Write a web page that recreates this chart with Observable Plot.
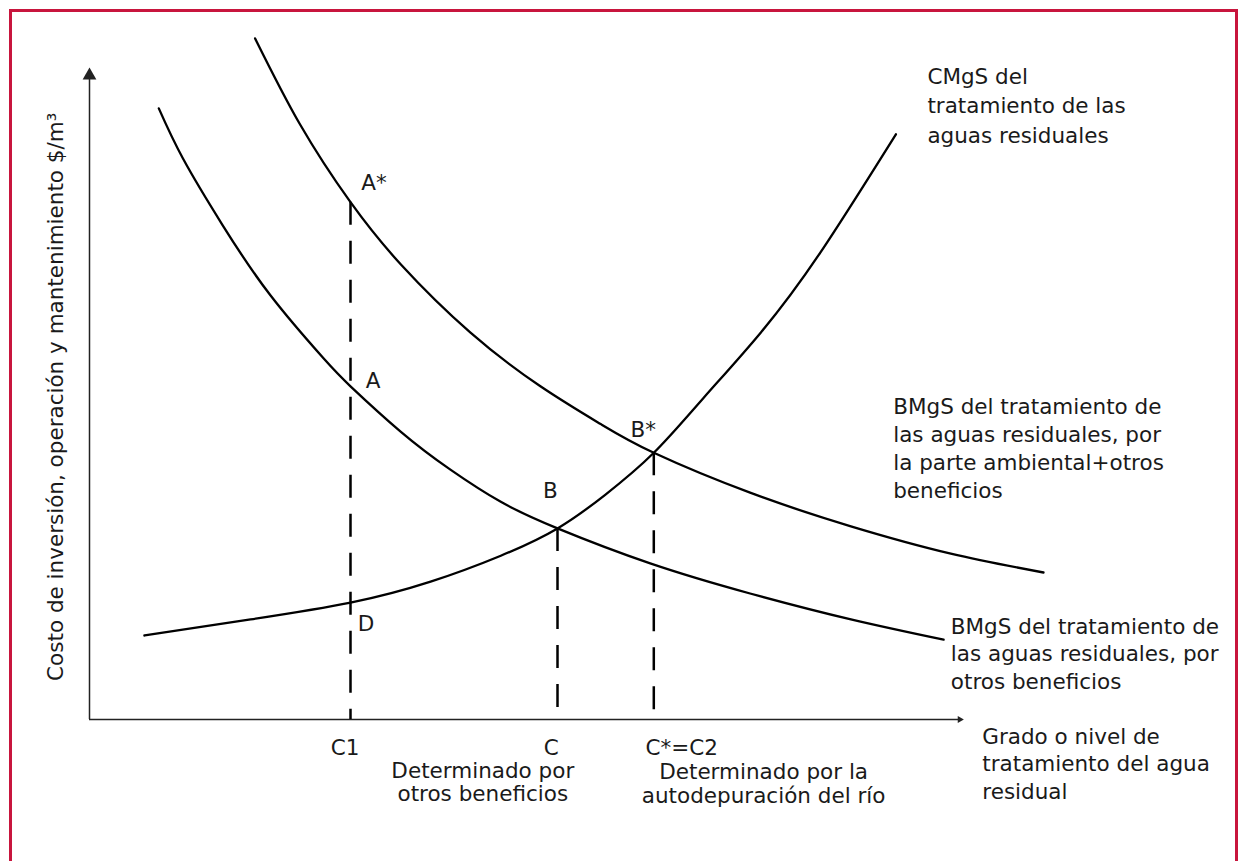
<!DOCTYPE html>
<html><head><meta charset="utf-8">
<script src="https://cdn.jsdelivr.net/npm/d3@7"></script>
<script src="https://cdn.jsdelivr.net/npm/@observablehq/plot@0.6"></script>
<style>
html,body{margin:0;padding:0;background:#fff;overflow:hidden;}
#wrap{position:relative;width:1238px;height:861px;overflow:hidden;}
#frame{position:absolute;left:9px;top:9px;width:1229px;height:900px;border:3px solid #c8153d;box-sizing:border-box;}
#wrap svg{display:block;position:absolute;left:0;top:0;}
</style></head><body><div id="wrap"><div id="frame"></div></div>
<script>
// Curve CMgS (marginal social cost of treatment)
const cmgsX = [6.1, 17.9, 29.0, 37.9, 45.7, 52.0, 57.3, 62.7, 68.2, 74.6, 81.2, 89.6];
const cmgsY = [12.0, 14.3, 16.7, 19.7, 23.4, 27.3, 32.1, 38.1, 45.9, 55.3, 66.7, 83.6];
// Curve BMgS (environmental + other benefits)
const bmgsAmbX = [18.4, 23.4, 29.0, 34.6, 42.3, 50.1, 56.8, 62.7, 73.4, 84.6, 95.7, 106.0];
const bmgsAmbY = [97.3, 85.0, 73.9, 65.0, 55.3, 47.6, 42.2, 38.1, 32.4, 27.6, 23.7, 21.0];
// Curve BMgS (other benefits only)
const bmgsOtrX = [7.7, 10.4, 14.8, 20.1, 26.0, 29.0, 34.6, 40.1, 45.7, 52.0, 62.3, 73.4, 84.6, 94.9];
const bmgsOtrY = [87.3, 80.1, 70.6, 60.6, 51.6, 47.6, 41.1, 35.7, 31.1, 27.3, 22.3, 18.0, 14.3, 11.4];
// Drop lines: C1, C, C*=C2
const dropNames = ["C1", "C", "C*=C2"];
const dropX = [29.0, 52.0, 62.7];
const dropTop = [73.9, 27.3, 38.1];
// Axis extents
const axisXEnd = 96.7;
const axisYEnd = 92.0;

const toPts = (xs, ys) => xs.map((x, i) => ({x, y: ys[i]}));
const cmgs = toPts(cmgsX, cmgsY);
const bmgsAmb = toPts(bmgsAmbX, bmgsAmbY);
const bmgsOtr = toPts(bmgsOtrX, bmgsOtrY);
const drops = dropX.map((x, i) => ({x, top: dropTop[i], base: 0, name: dropNames[i]}));

// Annotation table (text, anchor position in data units)
const pointLabels = [
  {text: "A*", x: 30.2, y: 75.6},
  {text: "A", x: 30.7, y: 47.3},
  {text: "B*", x: 60.1, y: 40.3},
  {text: "B", x: 50.4, y: 31.6},
  {text: "D", x: 29.8, y: 12.7}
];
const tickLabels = [
  {text: "C1", x: 28.4, y: -5.1},
  {text: "C", x: 51.3, y: -5.1},
  {text: "C*=C2", x: 65.8, y: -5.1}
];
const noteLabels = [
  {text: "Determinado por\notros beneficios", x: 43.7, y: -11.7},
  {text: "Determinado por la\nautodepuración del río", x: 74.9, y: -11.9}
];
const curveLabels = [
  {text: "CMgS del\ntratamiento de las\naguas residuales", x: 93.1, y: 82.4, lh: 1.36},
  {text: "BMgS del tratamiento de\nlas aguas residuales, por\nla parte ambiental+otros\nbeneficios", x: 89.3, y: 31.7, lh: 1.30},
  {text: "BMgS del tratamiento de\nlas aguas residuales, por\notros beneficios", x: 95.7, y: 4.3, lh: 1.30},
  {text: "Grado o nivel de\ntratamiento del agua\nresidual", x: 99.2, y: -11.3, lh: 1.28}
];
const yTitle = [{text: "Costo de inversión, operación y mantenimiento $/m³", x: -3.0, y: 46.1}];

const FS = 21.5;
const INK = "#1a1a1a";
const marks = [
  // axes
  Plot.ruleY([{y: 0, x1: 0, x2: axisXEnd}], {y: "y", x1: "x1", x2: "x2", stroke: "#222", strokeWidth: 1.5}),
  Plot.ruleX([{x: 0, y1: 0, y2: axisYEnd}], {x: "x", y1: "y1", y2: "y2", stroke: "#222", strokeWidth: 1.5}),
  Plot.dot([{x: 0, y: axisYEnd}], {x: "x", y: "y", symbol: "triangle", r: 5.1, fill: "#222", stroke: "none"}),
  Plot.dot([{x: axisXEnd, y: 0}], {x: "x", y: "y", symbol: "triangle", r: 2.6, rotate: 90, fill: "#222", stroke: "none"}),
  // dashed drop lines
  Plot.ruleX(drops, {x: "x", y1: "top", y2: "base", stroke: "#000", strokeWidth: 2.5, strokeDasharray: "23,16"}),
  // curves
  Plot.line(bmgsAmb, {x: "x", y: "y", curve: "natural", stroke: "#000", strokeWidth: 2.3}),
  Plot.line(bmgsOtr, {x: "x", y: "y", curve: "natural", stroke: "#000", strokeWidth: 2.3}),
  Plot.line(cmgs, {x: "x", y: "y", curve: "natural", stroke: "#000", strokeWidth: 2.3}),
  // labels
  Plot.text(pointLabels, {x: "x", y: "y", text: "text", textAnchor: "start", lineAnchor: "bottom", fontSize: FS, fill: INK}),
  Plot.text(tickLabels, {x: "x", y: "y", text: "text", textAnchor: "middle", lineAnchor: "bottom", fontSize: FS, fill: INK}),
  Plot.text(noteLabels, {x: "x", y: "y", text: "text", textAnchor: "middle", lineAnchor: "bottom", lineHeight: 1.09, fontSize: FS, fill: INK}),
  ...curveLabels.map(d => Plot.text([d], {x: "x", y: "y", text: "text", textAnchor: "start", lineAnchor: "bottom", lineHeight: d.lh, fontSize: FS, fill: INK})),
  Plot.text(yTitle, {x: "x", y: "y", text: "text", textAnchor: "middle", lineAnchor: "bottom", rotate: -90, fontSize: FS, fill: INK})
];

const chart = Plot.plot({
  width: 1238,
  height: 861,
  margin: 0,
  x: {domain: [0, 110], range: [89, 1079], axis: null},
  y: {domain: [0, 100], range: [719, 19], axis: null},
  style: {fontFamily: "'DejaVu Sans', sans-serif", background: "transparent", overflow: "visible"},
  marks
});
document.getElementById("wrap").appendChild(chart);
</script>
</body></html>
